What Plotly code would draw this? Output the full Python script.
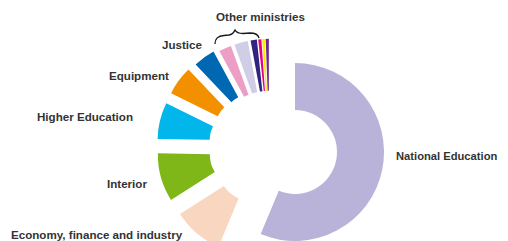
import plotly.graph_objects as go

# ---------------- data ----------------
ministries = [
    "National Education",
    "Economy, finance and industry",
    "Interior",
    "Higher Education",
    "Equipment",
    "Justice",
    "Other ministry 1",
    "Other ministry 2",
    "Other ministry 3",
    "Other ministry 4",
    "Other ministry 5",
    "Other ministry 6",
]
shares = [56.3, 9.7, 9.3, 7.0, 5.6, 4.2, 2.4, 2.6, 1.2, 0.6, 0.5, 0.6]
colors = [
    "#b9b3d9", "#f9d6bf", "#7fb719", "#00b6ea", "#f39000", "#0068b3",
    "#ec9ec5", "#d0cde7", "#2f2482", "#e6007e", "#ffec00", "#6b2a8b",
]
group_label = "Other ministries"
shown_labels = ministries[:6]

# ---------------- layout helpers ----------------
W, H = 500, 262
OFF = 8  # page body margin
TRANSPARENT = "rgba(0,0,0,0)"

def px(x):
    return (x - OFF) / W

def py(y):
    return 1 - (y - OFF) / H

# trace A : the National Education slice
rA, cxA, cyA, holeA = 89, 295, 152, 0.472
domA = dict(x=[px(cxA - rA - 15), px(cxA + rA + 15)],
            y=[py(cyA + rA), py(cyA - rA)])
colorsA = [colors[0]] + [TRANSPARENT] * (len(shares) - 1)

# trace B : all other slices, exploded
rB, cxB, cyB, holeB = 84, 269.3, 147.2, 0.381
pulls = [0, 0.339, 0.339, 0.339, 0.339, 0.32, 0.29, 0.29, 0.29, 0.29, 0.29, 0.29]
hb = rB * (1 + max(pulls))
domB = dict(x=[px(cxB - hb - 15), px(cxB + hb + 15)],
            y=[py(cyB + hb), py(cyB - hb)])
colorsB = [TRANSPARENT] + colors[1:]

common = dict(labels=ministries, values=shares, sort=False, direction="clockwise",
              rotation=0, textinfo="none", hoverinfo="label+percent",
              showlegend=False)

fig = go.Figure()
fig.add_trace(go.Pie(domain=domA, hole=holeA,
                     marker=dict(colors=colorsA, line=dict(width=0)), **common))
fig.add_trace(go.Pie(domain=domB, hole=holeB, pull=pulls,
                     marker=dict(colors=colorsB, line=dict(width=0)), **common))

font = dict(family="Liberation Sans, Arial, sans-serif", size=11.6, color="#333333",
            weight="bold")
font_ne = dict(font, size=11.2)

label_pos = [  # (x, y, xanchor)
    (396, 156, "left"),
    (183, 234, "right"),
    (147, 183, "right"),
    (133, 117, "right"),
    (169, 75, "right"),
    (203, 45, "right"),
]
annotations = []
for i, (text, (x, y, xa)) in enumerate(zip(shown_labels, label_pos)):
    annotations.append(dict(x=px(x), y=py(y), xref="paper", yref="paper",
                            text=text, showarrow=False, xanchor=xa,
                            yanchor="middle", font=font_ne if i == 0 else font,
                            borderpad=0, borderwidth=0))
annotations.append(dict(x=px(260), y=py(16), xref="paper", yref="paper",
                        text=group_label, showarrow=False, xanchor="center",
                        yanchor="middle", font=font, borderpad=0, borderwidth=0))

# curly brace over the "other ministries"
brace_pts = [
    ("M", [(215, 44)]),
    ("C", [(215, 38), (218, 36), (224, 35.5)]),
    ("L", [(229, 35)]),
    ("C", [(233, 34.5), (234, 32), (235, 30)]),
    ("C", [(236, 32), (238, 33.5), (243, 33.5)]),
    ("L", [(250, 33)]),
    ("C", [(255, 33), (258, 34), (259, 38)]),
]
path = " ".join(cmd + " " + " ".join(f"{px(x):.5f},{py(y):.5f}" for x, y in pts)
                for cmd, pts in brace_pts)

fig.update_layout(
    width=W, height=H,
    margin=dict(l=0, r=0, t=0, b=0),
    paper_bgcolor="white", plot_bgcolor="white",
    annotations=annotations,
    shapes=[dict(type="path", path=path, xref="paper", yref="paper",
                 line=dict(color="#1a1a1a", width=1.3))],
)

fig.write_html("out.html")
